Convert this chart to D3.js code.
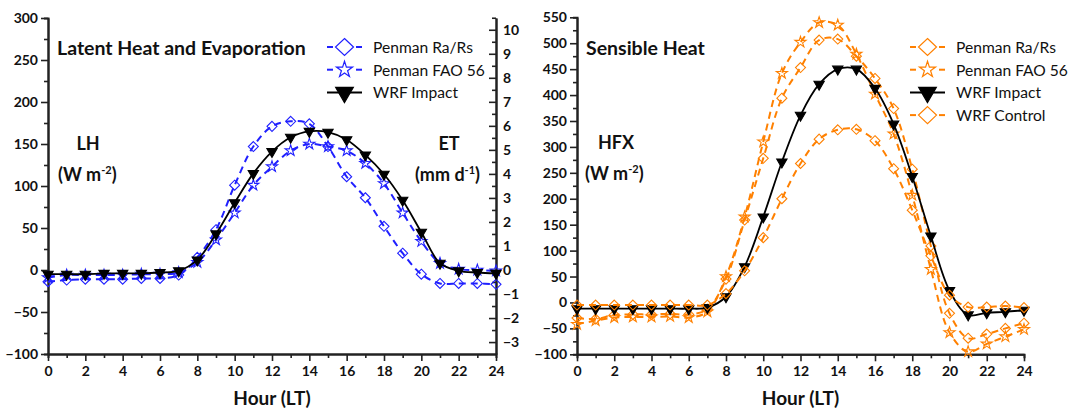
<!DOCTYPE html>
<html>
<head>
<meta charset="utf-8">
<script src="https://cdn.jsdelivr.net/npm/d3@7"></script>
<style>
  body { margin: 0; background: #fff; }
  svg text { font-family: Lato, "Open Sans", sans-serif; fill: #111; }
</style>
</head>
<body>
<div id="chart-area"></div>
<script>
// hours of the day (LT)
const HOURS = [0, 1, 2, 3, 4, 5, 6, 7, 8, 9, 10, 11, 12, 13, 14, 15, 16, 17, 18, 19, 20, 21, 22, 23, 24]

// latent heat, W m-2
const LH_PENMAN_RARS = [-14, -12, -11, -11, -11, -10, -10, -6, 15, 48, 101, 147, 171, 177, 174, 147, 111, 86, 52, 20, -5, -16, -16, -16, -17]
const LH_PENMAN_FAO56 = [-9, -6, -6, -6, -6, -5, -5, -3, 9, 36, 68, 101, 123, 142, 150, 147, 142, 127, 103, 68, 34, 8, 1, 0, -1]
const LH_WRF_IMPACT = [-5, -5, -5, -4, -4, -4, -3, -1, 12, 43, 80, 115, 141, 158, 165, 164, 155, 137, 114, 83, 45, 8, -1, -3, -4]

// sensible heat, W m-2
const HFX_PENMAN_RARS = [-30, -32, -24, -23, -23, -22, -23, -13, 45, 159, 278, 394, 453, 506, 508, 475, 432, 374, 257, 109, -21, -69, -61, -50, -40]
const HFX_PENMAN_FAO56 = [-42, -35, -29, -28, -28, -27, -29, -18, 50, 165, 310, 442, 502, 540, 535, 479, 402, 325, 207, 64, -58, -95, -80, -66, -52]
const HFX_WRF_IMPACT = [-12, -12, -12, -12, -12, -12, -12, -10, 11, 69, 165, 271, 361, 421, 450, 450, 413, 344, 243, 128, 23, -24, -20, -18, -15]
const HFX_WRF_CONTROL = [-5, -5, -5, -5, -5, -5, -5, -5, 17, 61, 125, 200, 268, 315, 333, 334, 312, 258, 178, 90, 14, -9, -9, -7, -10]

// tick labels
const HOUR_TICKS = [0, 2, 4, 6, 8, 10, 12, 14, 16, 18, 20, 22, 24]
const LH_TICKS = [-100, -50, 0, 50, 100, 150, 200, 250, 300]
const ET_TICKS = [-3, -2, -1, 0, 1, 2, 3, 4, 5, 6, 7, 8, 9, 10]
const HFX_TICKS = [-100, -50, 0, 50, 100, 150, 200, 250, 300, 350, 400, 450, 500, 550]

const LH_PER_ET = 28.6 // W m-2 per mm d-1

const BLUE = "#2020ff"
const ORANGE = "#ff8000"
const BLACK = "#000"

const SVG_WIDTH = 1070
const SVG_HEIGHT = 409

const svg = d3.select("#chart-area").append("svg")
  .attr("width", SVG_WIDTH)
  .attr("height", SVG_HEIGHT)

// marker shapes
const diamond = (w, h) => `M0,${-h}L${w},0L0,${h}L${-w},0Z`
const star = size => d3.symbol(d3.symbolStar, size)()
const triangleDown = size => d3.symbol(d3.symbolTriangle, size)()

function styleAxis(g) {
  g.select(".domain").attr("stroke", "#222").attr("stroke-width", 2)
  g.selectAll(".tick line").attr("stroke", "#222").attr("stroke-width", 1.6)
  g.selectAll("text")
    .attr("font-size", "14px")
    .attr("font-weight", "bold")
    .style("font-family", "Lato, sans-serif")
}

function drawPanel(p) {
  const x = d3.scaleLinear().domain([0, 24]).range([p.left, p.right])
  const y = d3.scaleLinear().domain(p.yDomain).range([p.bottom, p.top])

  // minor ticks first, then majors with labels
  svg.append("g")
    .attr("transform", `translate(0, ${p.bottom})`)
    .call(d3.axisBottom(x).tickValues(d3.range(1, 24, 2)).tickSize(4).tickFormat(""))
    .call(styleAxis)
  svg.append("g")
    .attr("transform", `translate(0, ${p.bottom})`)
    .call(d3.axisBottom(x).tickValues(HOUR_TICKS).tickSize(7).tickSizeOuter(0).tickPadding(5).tickFormat(d3.format("d")))
    .call(styleAxis)

  svg.append("g")
    .attr("transform", `translate(${p.left}, 0)`)
    .call(d3.axisLeft(y).tickValues(p.yTicks.slice(1).map(v => v - 25)).tickSize(4).tickFormat(""))
    .call(styleAxis)
  svg.append("g")
    .attr("transform", `translate(${p.left}, 0)`)
    .call(d3.axisLeft(y).tickValues(p.yTicks).tickSize(7).tickSizeOuter(0).tickPadding(3).tickFormat(d3.format("d")))
    .call(styleAxis)

  if (p.etTicks) {
    const yEt = d3.scaleLinear()
      .domain(p.yDomain.map(v => v / LH_PER_ET))
      .range([p.bottom, p.top])
    const minor = p.etTicks.map(v => v + 0.5)
    svg.append("g")
      .attr("transform", `translate(${p.right}, 0)`)
      .call(d3.axisRight(yEt).tickValues(minor).tickSizeInner(-4).tickSizeOuter(0).tickFormat(""))
      .call(styleAxis)
    svg.append("g")
      .attr("transform", `translate(${p.right}, 0)`)
      .call(d3.axisRight(yEt).tickValues(p.etTicks).tickSizeInner(-7).tickSizeOuter(0).tickPadding(7).tickFormat(d3.format("d")))
      .call(styleAxis)
  }

  const line = d3.line()
    .x((d, i) => x(HOURS[i]))
    .y(d => y(d))
    .curve(d3.curveCatmullRom.alpha(0.5))

  p.series.forEach(s => {
    const g = svg.append("g")
    g.append("path")
      .attr("d", line(s.values))
      .attr("fill", "none")
      .attr("stroke", s.color)
      .attr("stroke-width", s.dashed ? 2 : 1.8)
      .attr("stroke-dasharray", s.dashed ? "7,5" : null)

    g.selectAll("path.marker").data(s.values).enter().append("path")
      .attr("class", "marker")
      .attr("transform", (d, i) => `translate(${x(HOURS[i])}, ${y(d)})` + (s.shape === "tri" ? " rotate(180)" : ""))
      .attr("d", s.shape === "diamond" ? diamond(5, 5) : s.shape === "star" ? star(38) : triangleDown(46))
      .attr("fill", s.shape === "tri" ? s.color : "none")
      .attr("stroke", s.color)
      .attr("stroke-width", 1.1)
  })

  // legend
  p.series.forEach((s, i) => {
    const cy = p.legendY + i * 22.7
    const lx = p.legendX
    const g = svg.append("g")
    if (s.dashed) {
      g.append("line").attr("x1", lx).attr("x2", lx + 6).attr("y1", cy).attr("y2", cy)
        .attr("stroke", s.color).attr("stroke-width", 2)
      g.append("line").attr("x1", lx + 29).attr("x2", lx + 35).attr("y1", cy).attr("y2", cy)
        .attr("stroke", s.color).attr("stroke-width", 2)
    } else {
      g.append("line").attr("x1", lx).attr("x2", lx + 35).attr("y1", cy).attr("y2", cy)
        .attr("stroke", s.color).attr("stroke-width", 2)
    }
    g.append("path")
      .attr("transform", `translate(${lx + 17.5}, ${cy})` + (s.shape === "tri" ? " rotate(180)" : ""))
      .attr("d", s.shape === "diamond" ? diamond(9, 8.5) : s.shape === "star" ? star(80) : triangleDown(135))
      .attr("fill", s.shape === "tri" ? s.color : "none")
      .attr("stroke", s.color)
      .attr("stroke-width", 1.2)
    g.append("text")
      .attr("x", lx + 46)
      .attr("y", cy + 6)
      .attr("font-size", "15.6px")
      .text(s.name)
  })

  // x axis title
  svg.append("text")
    .attr("x", (p.left + p.right) / 2)
    .attr("y", 405)
    .attr("text-anchor", "middle")
    .attr("font-size", "19px")
    .attr("font-weight", "bold")
    .text("Hour (LT)")

  svg.append("text")
    .attr("x", p.left + 9)
    .attr("y", 55)
    .attr("font-size", "19.5px")
    .attr("font-weight", "bold")
    .text(p.title)
}

function unitLabel(x, y, lines, anchorX) {
  // lines: [name, unit, exponent]
  svg.append("text")
    .attr("x", anchorX)
    .attr("y", y)
    .attr("text-anchor", "middle")
    .attr("font-size", "18px")
    .attr("font-weight", "bold")
    .text(lines[0])
  const t = svg.append("text")
    .attr("x", x)
    .attr("y", y + 31)
    .attr("font-size", "18px")
    .attr("font-weight", "bold")
  t.append("tspan").text("(" + lines[1])
  t.append("tspan").attr("dy", -7).attr("font-size", "11px").text(lines[2])
  t.append("tspan").attr("dy", 7).text(")")
}

drawPanel({
  left: 48, right: 496, top: 18, bottom: 354,
  yDomain: [-100, 300], yTicks: LH_TICKS, etTicks: ET_TICKS,
  title: "Latent Heat and Evaporation",
  legendX: 327, legendY: 47,
  series: [
    { name: "Penman Ra/Rs", values: LH_PENMAN_RARS, color: BLUE, dashed: true, shape: "diamond" },
    { name: "Penman FAO 56", values: LH_PENMAN_FAO56, color: BLUE, dashed: true, shape: "star" },
    { name: "WRF Impact", values: LH_WRF_IMPACT, color: BLACK, dashed: false, shape: "tri" }
  ]
})

drawPanel({
  left: 577, right: 1024, top: 17.3, bottom: 354.3,
  yDomain: [-100, 550], yTicks: HFX_TICKS,
  title: "Sensible Heat",
  legendX: 910, legendY: 47,
  series: [
    { name: "Penman Ra/Rs", values: HFX_PENMAN_RARS, color: ORANGE, dashed: true, shape: "diamond" },
    { name: "Penman FAO 56", values: HFX_PENMAN_FAO56, color: ORANGE, dashed: true, shape: "star" },
    { name: "WRF Impact", values: HFX_WRF_IMPACT, color: BLACK, dashed: false, shape: "tri" },
    { name: "WRF Control", values: HFX_WRF_CONTROL, color: ORANGE, dashed: true, shape: "diamond" }
  ]
})

unitLabel(58, 150, ["LH", "W m", "-2"], 88)
unitLabel(415, 150, ["ET", "mm d", "-1"], 449)
unitLabel(585, 149, ["HFX", "W m", "-2"], 616)
</script>
</body>
</html>
